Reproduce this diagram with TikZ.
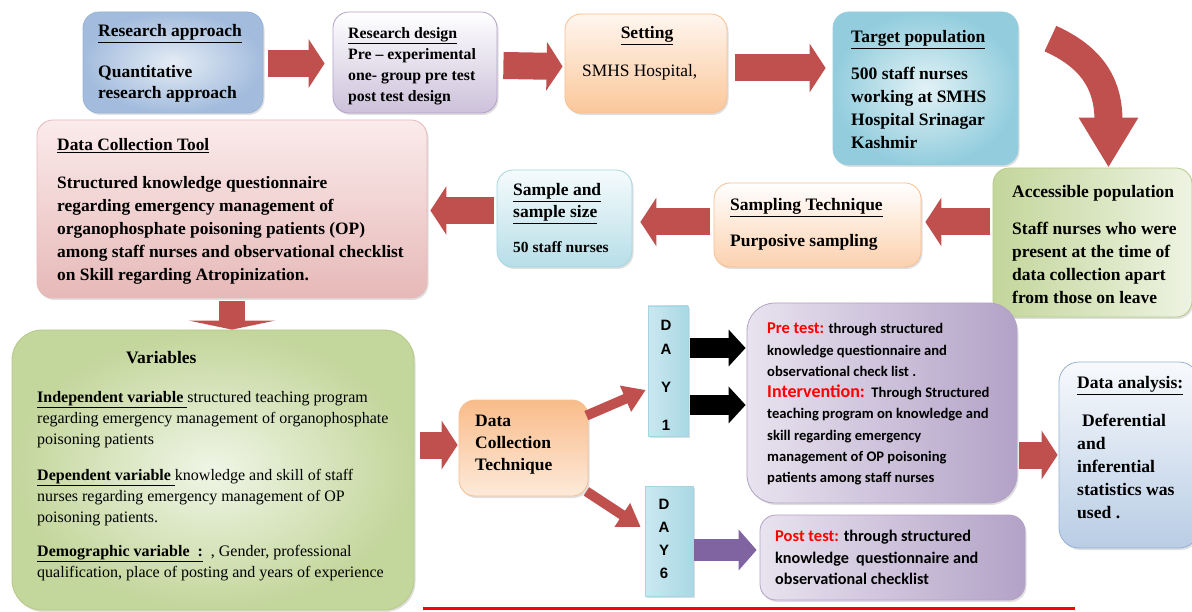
\documentclass[tikz,border=0pt]{standalone}
\usepackage{fontspec}
\setmainfont{Liberation Serif}
\newfontfamily\calib{Carlito}
\newfontfamily\arialf{Liberation Sans}
\usetikzlibrary{arrows.meta,shadows,calc}
\newcommand{\myfs}[2]{\fontsize{#1}{#2}\selectfont}
\newcommand{\topln}{\rule{0pt}{13.5pt}}
\definecolor{arrred}{HTML}{C0504D}
\definecolor{purparr}{HTML}{8064A2}
\tikzset{
  box/.style={rounded corners=16pt, line width=0.8pt, drop shadow={shadow xshift=1.5pt, shadow yshift=-2pt, opacity=0.25}},
  txt/.style={inner sep=0pt, align=left, anchor=north west},
  one/.style={inner sep=0pt, anchor=base west},
  barrow/.style={arrred, line width=27pt, -{Triangle[width=48pt,length=16pt]}},
  downarrow/.style={arrred, line width=26pt, -{Triangle[width=86pt,length=9pt]}},
  thinarrow/.style={arrred, line width=10pt, -{Triangle[width=27pt,length=22pt]}},
  blackarrow/.style={black, line width=20pt, -{Triangle[width=36pt,length=17pt]}},
  purparrow/.style={purparr, line width=22pt, -{Triangle[width=40pt,length=18pt]}},
  curvearrow/.style={arrred, line width=28pt, -{Triangle[width=56pt,length=50pt]}},
  daybox/.style={line width=0.6pt, draw=dayB, left color=dayL, right color=dayR, drop shadow={shadow xshift=1.5pt, shadow yshift=-2pt, opacity=0.25}},
  dayletter/.style={inner sep=0pt, font=\arialf\bfseries\myfs{15}{18}},
}
\definecolor{raB}{HTML}{95B3D7}\definecolor{raI}{HTML}{E4ECF5}\definecolor{raO}{HTML}{A3BCDD}
\definecolor{rdB}{HTML}{B3A2C7}\definecolor{rdBot}{HTML}{CCC1DA}
\definecolor{stB}{HTML}{F9BF91}\definecolor{stT}{HTML}{FFF6EF}\definecolor{stBot}{HTML}{FBC79A}
\definecolor{tpB}{HTML}{93CDDD}\definecolor{tpI}{HTML}{E2F2F6}\definecolor{tpO}{HTML}{93CDDD}
\definecolor{apB}{HTML}{B5CA88}\definecolor{apL}{HTML}{C3D69B}\definecolor{apR}{HTML}{EEF3E2}
\definecolor{stqBot}{HTML}{FCD1AE}
\definecolor{ssB}{HTML}{A5D5E2}\definecolor{ssT}{HTML}{F5FBFC}\definecolor{ssBot}{HTML}{B7DEE8}
\definecolor{dctB}{HTML}{E6B9B8}\definecolor{dctT}{HTML}{FBEBEB}\definecolor{dctBot}{HTML}{E6B9B8}
\definecolor{varB}{HTML}{B5CA88}\definecolor{varI}{HTML}{F0F5E6}\definecolor{varO}{HTML}{C3D69B}
\definecolor{dtB}{HTML}{F9BF91}\definecolor{dtT}{HTML}{F9BC8A}\definecolor{dtBot}{HTML}{FDEADA}
\definecolor{dayB}{HTML}{A5D5E2}\definecolor{dayL}{HTML}{CBE8F0}\definecolor{dayR}{HTML}{A9D8E4}
\definecolor{ptB}{HTML}{B3A2C7}\definecolor{ptL}{HTML}{E8E3EF}\definecolor{ptR}{HTML}{B3A2C7}
\definecolor{daB}{HTML}{95B3D7}\definecolor{daT}{HTML}{F7F9FC}\definecolor{daBot}{HTML}{B9CDE5}
\begin{document}
\begin{tikzpicture}[x=1pt,y=-1pt]
\useasboundingbox (0,0) rectangle (1192,612);

% ---------- boxes ----------
\node[box, draw=raB, inner color=raI, outer color=raO, minimum width=180pt, minimum height=101pt] (ra) at (173,62.5) {};
\node[box, draw=rdB, top color=white, bottom color=rdBot, minimum width=164pt, minimum height=101pt] (rd) at (415,62.5) {};
\node[box, draw=stB, top color=stT, bottom color=stBot, minimum width=162pt, minimum height=99pt] (st) at (646,63.5) {};
\node[box, draw=tpB, inner color=tpI, outer color=tpO, minimum width=185pt, minimum height=153pt] (tp) at (925.5,88.5) {};
\node[box, draw=apB, left color=apL, right color=apR, minimum width=199pt, minimum height=149pt] (ap) at (1092.5,242.5) {};
\node[box, draw=stB, top color=white, bottom color=stqBot, minimum width=207pt, minimum height=84pt] (stq) at (817.5,225) {};
\node[box, draw=ssB, top color=ssT, bottom color=ssBot, minimum width=135pt, minimum height=97pt] (ss) at (564.5,218.5) {};
\node[box, draw=dctB, top color=dctT, bottom color=dctBot, minimum width=390pt, minimum height=178pt] (dct) at (232,209) {};
\node[box, draw=varB, inner color=varI, outer color=varO, rounded corners=30pt, minimum width=402pt, minimum height=280pt] (var) at (213,470) {};
\node[box, draw=dtB, top color=dtT, bottom color=dtBot, minimum width=129pt, minimum height=96pt] (dt) at (523.5,448) {};
\node[daybox, minimum width=40pt, minimum height=130pt] (day1) at (668,371) {};
\node[daybox, minimum width=48pt, minimum height=110pt] (day6) at (669,541) {};
\node[box, draw=ptB, left color=ptL, right color=ptR, rounded corners=28pt, minimum width=270pt, minimum height=200pt] (pt) at (882,403) {};
\node[box, draw=ptB, left color=ptL, right color=ptR, minimum width=265pt, minimum height=85pt] (post) at (892.5,557.5) {};
\node[box, draw=daB, top color=daT, bottom color=daBot, rounded corners=20pt, minimum width=140pt, minimum height=186pt] (da) at (1129,455) {};

% ---------- texts ----------
\node[txt, font=\bfseries\myfs{17.5}{21}] (ratxt) at (98,23) {\topln\underline{Research approach}\\[20pt]Quantitative\\research approach};
\node[txt, font=\bfseries\myfs{15.8}{21}] (rdtxt) at (348,25) {\topln\underline{Research design}\\Pre -- experimental\\one- group pre test\\post test design};
\node[inner sep=0pt, anchor=base, font=\bfseries\myfs{17.5}{22}] (sttitle) at (647,39) {\underline{Setting}};
\node[one, font=\myfs{17.4}{22}] (sttxt) at (582,77) {SMHS Hospital,};
\node[txt, font=\bfseries\myfs{17.5}{23}] (tptxt) at (851,29) {\topln\underline{Target population}\\[14pt]500 staff nurses\\working at SMHS\\Hospital Srinagar\\Kashmir};
\node[txt, font=\bfseries\myfs{17.5}{23}] (aptxt) at (1012,184) {\topln Accessible population\\[14pt]Staff nurses who were\\present at the time of\\data collection apart\\from those on leave};
\node[txt, font=\bfseries\myfs{17.5}{22}] (stqtxt) at (730,197) {\topln\underline{Sampling Technique}\\[14pt]Purposive sampling};
\node[txt, font=\bfseries\myfs{17.5}{22}] (sstxt) at (513,182) {\topln\underline{Sample and}\\\underline{sample size}};
\node[one, font=\bfseries\myfs{15.5}{20}] (ssnum) at (513,253) {50 staff nurses};
\node[txt, font=\bfseries\myfs{17.4}{23}] (dcttxt) at (57,137) {\topln\underline{Data Collection Tool}\\[15pt]Structured knowledge questionnaire\\regarding emergency management of\\organophosphate poisoning patients (OP)\\among staff nurses and observational checklist\\on Skill regarding Atropinization.};
\node[one, font=\bfseries\myfs{17.5}{22}] (vartitle) at (126,363) {Variables};
\node[txt, font=\myfs{16}{21}] (vartxt) at (37,389) {\topln\textbf{\underline{Independent variable }}structured teaching program\\regarding emergency management of organophosphate\\poisoning patients\\[15pt]\textbf{\underline{Dependent variable }}knowledge and skill of staff\\nurses regarding emergency management of OP\\poisoning patients.\\[13pt]\textbf{\underline{Demographic variable \ :}}\ \ , Gender, professional\\qualification, place of posting and years of experience};
\node[txt, font=\bfseries\myfs{17.5}{22}] (dttxt) at (475,413) {\topln Data\\Collection\\Technique};

\node[dayletter] (d1a) at (666,325) {D};
\node[dayletter] (d1b) at (666,349) {A};
\node[dayletter] (d1c) at (666,387) {Y};
\node[dayletter] (d1d) at (666,425) {1};
\node[dayletter] (d6a) at (664,504) {D};
\node[dayletter] (d6b) at (664,527) {A};
\node[dayletter] (d6c) at (664,550) {Y};
\node[dayletter] (d6d) at (664,573) {6};

\node[txt, font=\calib\bfseries\myfs{14.6}{21.3}] (pttxt) at (767,320) {\topln{\color{red}\myfs{16.5}{21.3}Pre test:} through structured\\knowledge questionnaire and\\observational check list .\\{\color{red}\myfs{18}{21.3}Intervention:}\ \ Through Structured\\teaching program on knowledge and\\skill regarding emergency\\management of OP poisoning\\patients among staff nurses};
\node[txt, font=\calib\bfseries\myfs{16.2}{21.5}] (posttxt) at (775,528) {\topln{\color{red}\myfs{16.5}{21.5}Post test:} through structured\\knowledge\ \ questionnaire and\\observational checklist};
\node[txt, font=\bfseries\myfs{17.6}{23}] (datxt) at (1077,375) {\topln\underline{Data analysis:}\\[15pt]\hspace*{5pt}Deferential\\and\\inferential\\statistics was\\used .};

% ---------- connectors ----------
\draw[barrow] ($(ra.east)+(5,1)$) -- ($(rd.west)+(-8,1)$);
\draw[barrow] ($(rd.east)+(6,3)$) -- ($(st.west)+(-2,3)$);
\draw[barrow] ($(st.east)+(8,4.5)$) -- ($(st.east -| tp.west)+(-7,4.5)$);
\coordinate (cs) at ($(tp.north east)+(32,27)$);
\draw[curvearrow] (cs) .. controls ($(cs)+(40,18)$) and ($(ap.north)+(16,-85)$) .. ($(ap.north)+(16,0)$);
\draw[barrow] ($(ap.west |- stq.east)+(-3,-3)$) -- ($(stq.east)+(4,-3)$);
\draw[barrow] ($(stq.west)+(-4,-3)$) -- ($(stq.west -| ss.east)+(8,-3)$);
\draw[barrow] ($(ss.west)+(-3,-8)$) -- ($(ss.west -| dct.east)+(3,-8)$);
\draw[downarrow] ($(dct.south)+(0,3)$) -- ($(dct.south |- var.north)+(0,0)$);
\draw[barrow] ($(var.east |- dt.west)+(6,-3)$) -- ($(dt.west)+(-1,-3)$);
\draw[thinarrow] ($(dt.north east)+(-2,16)$) -- ($(day1.west)+(-2,19)$);
\draw[thinarrow] ($(dt.south east)+(-2,-5)$) -- ($(day6.west)+(-4,-14)$);
\draw[blackarrow] ($(day1.east)+(2,-23)$) -- ($(day1.east -| pt.west)+(-1,-23)$);
\draw[blackarrow] ($(day1.east)+(2,34)$) -- ($(day1.east -| pt.west)+(-1,34)$);
\draw[purparrow] ($(day6.east)+(1,9)$) -- ($(day6.east -| post.west)+(-3,9)$);
\draw[barrow] ($(pt.east)+(2,52)$) -- ($(pt.east -| da.west)+(-1,52)$);

\draw[red, line width=3pt] (423,608) -- (1075,608);
\end{tikzpicture}
\end{document}
